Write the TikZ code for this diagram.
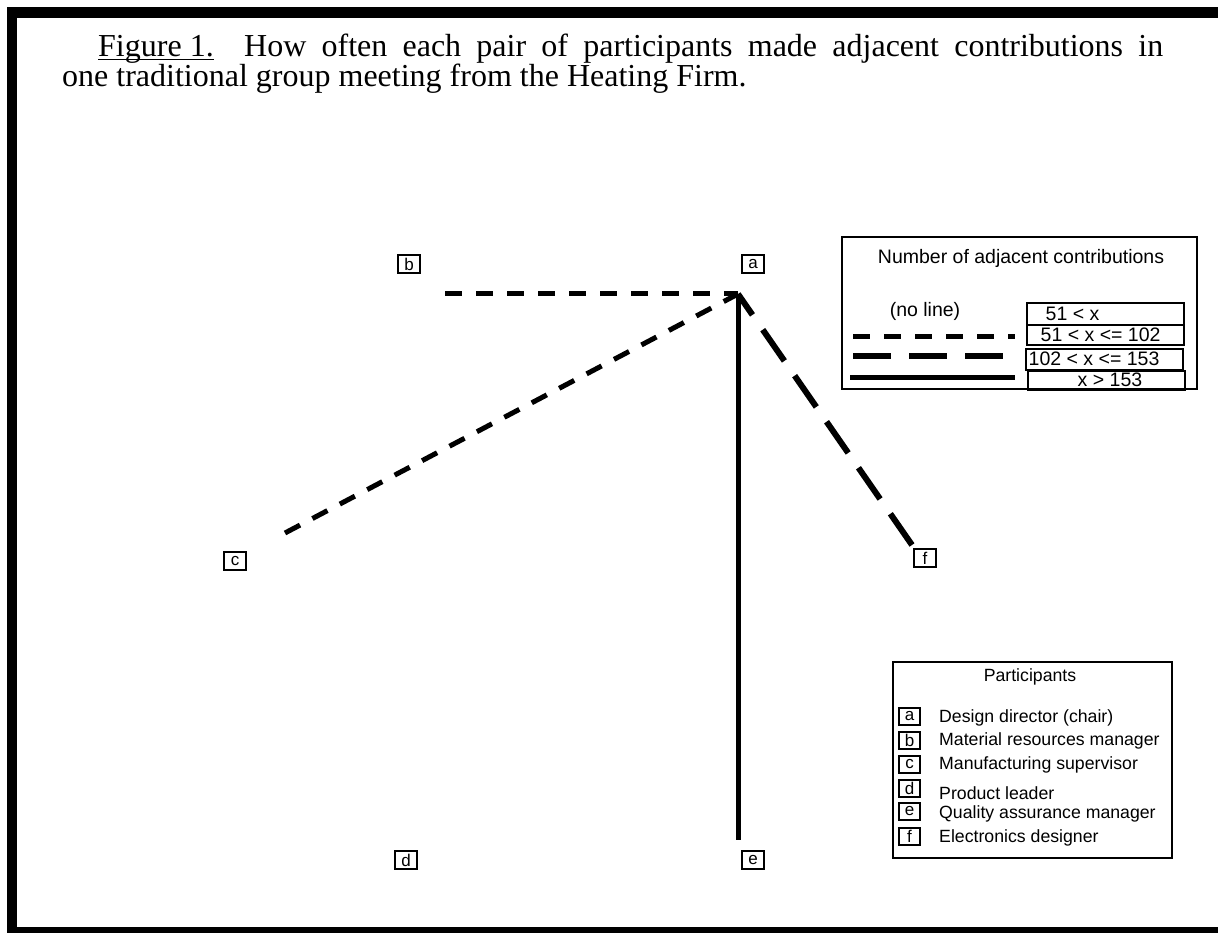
\documentclass[tikz,border=0pt]{standalone}
\usepackage{fontspec}
\setmainfont{Liberation Serif}
\setsansfont{Liberation Sans}
\usetikzlibrary{positioning}
\newcommand\figunder[1]{\setbox0\hbox{#1}\rlap{\rule[-3.5pt]{\wd0}{1.3pt}}\box0}

\begin{document}
\begin{tikzpicture}[x=1pt,y=-1pt]
			\tikzstyle{person}=[draw,line width=2pt,inner sep=0pt,minimum width=22pt,minimum height=18pt,font=\sffamily\fontsize{17}{17}\selectfont];
			\tikzstyle{tag}=[draw,line width=2pt,inner sep=0pt,minimum width=21pt,minimum height=17pt,font=\sffamily\fontsize{17}{17}\selectfont];
			\tikzstyle{keytext}=[inner sep=0pt,font=\sffamily\fontsize{19.5}{21}\selectfont];
			\tikzstyle{whotext}=[inner sep=0pt,anchor=west,font=\sffamily\fontsize{17.7}{20}\selectfont];
			\tikzstyle{cell}=[draw,line width=2pt,inner sep=0pt,minimum width=157pt];
			\tikzstyle{lowline}=[line width=5pt,dash pattern=on 17pt off 14pt];
			\tikzstyle{midline}=[line width=6pt,dash pattern=on 38pt off 18pt];
			\tikzstyle{highline}=[line width=5pt];
			\useasboundingbox (0,0) rectangle (1218,933);
			% frame
			\fill (7,7) rectangle (1218,18);
			\fill (7,7) rectangle (17,933);
			\fill (7,927) rectangle (1218,933);
			% caption
			\node[anchor=base west,inner sep=0pt,font=\fontsize{32}{36}\selectfont] (cap1) at (98,57)
				{\hbox to 1065pt{\figunder{Figure 1.}\ \ How often each pair of participants made adjacent contributions in}};
			\node[anchor=base west,inner sep=0pt,font=\fontsize{32}{36}\selectfont] (cap2) at (62,87)
				{one traditional group meeting from the Heating Firm.};
			% participants
			\node[person] (a) at (753,264) {a};
			\node[person] (b) at (409,264) {b};
			\node[person] (c) at (235,561) {c};
			\node[person] (d) at (406,860) {d};
			\node[person] (e) at (753,860) {e};
			\node[person] (f) at (925,558) {f};
			\coordinate (a-hub) at (738,294);
			\coordinate (b-end) at (445,294);
			\coordinate (c-end) at (285,533);
			\coordinate (e-end) at (738,840);
			\coordinate (f-end) at (912,545);
			\draw[lowline] (b-end) -- (a-hub);
			\draw[lowline] (c-end) -- (a-hub);
			\draw[midline] (f-end) -- (a-hub);
			\draw[highline] (a-hub) -- (e-end);
			% key for the lines
			\node[draw,line width=2pt,inner sep=0pt,minimum width=355pt,minimum height=151pt] (key) at (1019.5,313) {};
			\node[keytext] (keytitle) at (1021,258) {Number of adjacent contributions};
			\node[keytext] (noline) at (925,311) {(no line)};
			\node[cell,minimum height=22pt] (c1) at (1105,314) {};
			\node[cell,minimum height=20pt] (c2) at (1105,335) {};
			\node[cell,minimum height=21pt] (c3) at (1104,359) {};
			\node[cell,minimum height=19pt] (c4) at (1106,380) {};
			\node[keytext,anchor=west,right=20pt of c1.west] (t1) {51 < x};
			\node[keytext,anchor=west,right=15pt of c2.west] (t2) {51 < x <= 102};
			\node[keytext,anchor=west,right=4pt of c3.west] (t3) {102 < x <= 153};
			\node[keytext,anchor=west,right=51pt of c4.west] (t4) {x > 153};
			\draw[lowline] (853,336) -- (1015,336);
			\draw[midline] (853,356) -- (1015,356);
			\draw[highline] (850,377) -- (1015,377);
			% key for the participants
			\node[draw,line width=2pt,inner sep=0pt,minimum width=279pt,minimum height=196pt] (who) at (1032.5,760) {};
			\node[keytext,font=\sffamily\fontsize{17.7}{20}\selectfont] (whotitle) at (1030,677) {Participants};
			\node[tag] (ka) at (909.5,716.5) {a};
			\node[tag] (kb) at (909.5,740) {b};
			\node[tag] (kc) at (909.5,764.5) {c};
			\node[tag] (kd) at (909.5,788.5) {d};
			\node[tag] (ke) at (909.5,811.5) {e};
			\node[tag] (kf) at (909.5,836.5) {f};
			\node[whotext] (na) at (939,718) {Design director (chair)};
			\node[whotext] (nb) at (939,741) {Material resources manager};
			\node[whotext] (nc) at (939,765) {Manufacturing supervisor};
			\node[whotext] (nd) at (939,793) {Product leader};
			\node[whotext] (ne) at (939,814) {Quality assurance manager};
			\node[whotext] (nf) at (939,838) {Electronics designer};
		\end{tikzpicture}
\end{document}
